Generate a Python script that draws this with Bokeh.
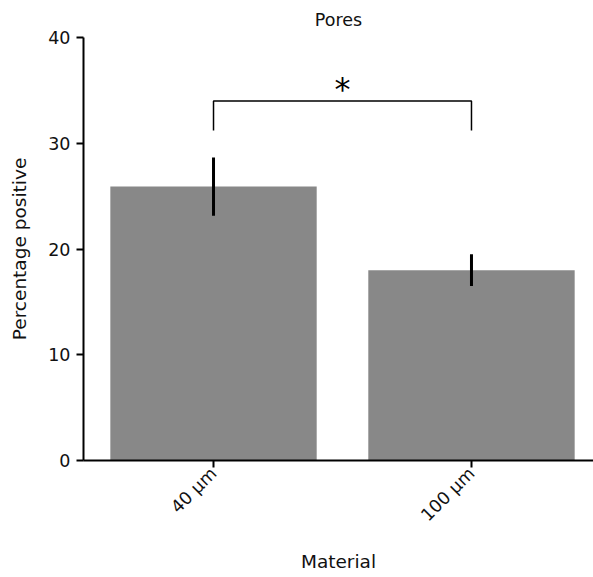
import math
from bokeh.plotting import figure
from bokeh.models import Range1d, FixedTicker, ColumnDataSource
from bokeh.core.properties import value
from bokeh.embed import file_html
from bokeh.resources import INLINE

categories = ["40 µm", "100 µm"]
means = [25.9, 18.0]
errors = [2.75, 1.5]
y_ticks = [0, 10, 20, 30, 40]
bracket_top = 34.0
bracket_leg = 31.2
sig_label = "*"

FONT = "DejaVu Sans"
TXT = "#111111"
pos = list(range(len(categories)))

p = figure(width=593, height=577, output_backend="svg", toolbar_location=None,
           x_range=Range1d(-0.504, 1.473), y_range=Range1d(0, 40),
           min_border_left=83, min_border_right=0, min_border_top=37, min_border_bottom=117,
           title="Pores")
p.outline_line_color = None
p.grid.visible = False
p.background_fill_color = "white"
p.border_fill_color = "white"

p.title.align = "center"
p.title.text_font = FONT
p.title.text_font_size = "17.5px"
p.title.text_font_style = "normal"
p.title.text_color = TXT
p.title.standoff = 15

src = ColumnDataSource(dict(x=pos, top=means,
                            upper=[m + e for m, e in zip(means, errors)],
                            lower=[m - e for m, e in zip(means, errors)]))
p.vbar(x="x", top="top", width=0.8, bottom=0, source=src,
       fill_color="#888888", line_color=None)
p.segment(x0="x", y0="lower", x1="x", y1="upper", source=src,
          line_color="black", line_width=3)

# significance bracket
p.line(x=[pos[0], pos[0], pos[1], pos[1]],
       y=[bracket_leg, bracket_top, bracket_top, bracket_leg],
       line_color="black", line_width=1.5)
p.text(x=[(pos[0] + pos[1]) / 2], y=[bracket_top], text=[sig_label],
       text_font=value(FONT), text_font_size="32px", text_align="center",
       text_baseline="bottom", text_color="black", y_offset=7)

for ax in (p.xaxis[0], p.yaxis[0]):
    ax.axis_line_width = 2
    ax.axis_line_color = "black"
    ax.major_tick_line_width = 2
    ax.major_tick_line_color = "black"
    ax.major_tick_out = 7
    ax.major_tick_in = 0
    ax.minor_tick_line_color = None
    ax.major_label_text_font = FONT
    ax.major_label_text_font_size = "17.5px"
    ax.major_label_text_color = TXT
    ax.axis_label_text_font = FONT
    ax.axis_label_text_font_size = "18.5px"
    ax.axis_label_text_font_style = "normal"
    ax.axis_label_text_color = TXT

p.yaxis.ticker = FixedTicker(ticks=y_ticks)
p.yaxis.axis_label = "Percentage positive"
p.yaxis.major_label_standoff = 6
p.yaxis.axis_label_standoff = 15

p.xaxis.ticker = FixedTicker(ticks=pos)
p.xaxis.major_label_overrides = {i: c for i, c in zip(pos, categories)}
p.xaxis.major_label_orientation = math.pi / 4
p.xaxis.major_label_standoff = 3
p.xaxis.axis_label = "Material"
p.xaxis.axis_label_standoff = 16

open("out.html", "w").write(file_html(p, INLINE))
